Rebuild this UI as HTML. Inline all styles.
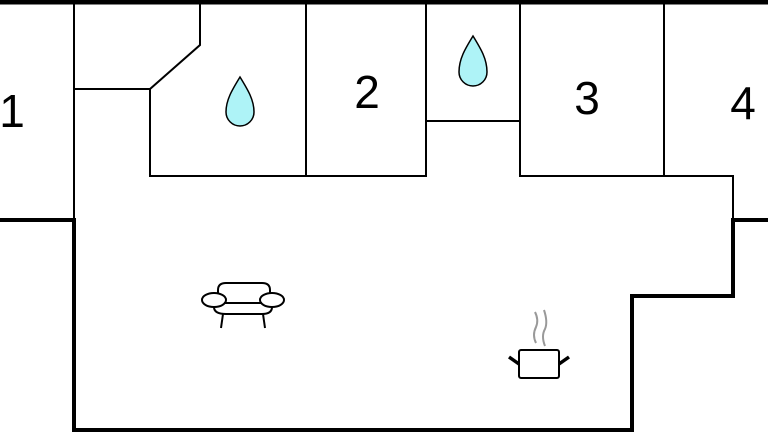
<html><body style="margin:0;background:#fff">
<svg width="768" height="432" viewBox="0 0 768 432" xmlns="http://www.w3.org/2000/svg">
<g fill="none" stroke="#000">
<line x1="0" y1="2" x2="768" y2="2" stroke-width="5"/>
<polyline points="0,220 74,220 74,430 632,430 632,296 733,296 733,220 768,220" stroke-width="4"/>
<g stroke-width="2">
<line x1="74" y1="0" x2="74" y2="220"/>
<polyline points="74,89 150,89 200,45 200,0"/>
<polyline points="150,89 150,176 426,176 426,0"/>
<line x1="306" y1="0" x2="306" y2="176"/>
<polyline points="426,121 520,121"/>
<polyline points="520,0 520,176 733,176 733,220"/>
<line x1="664" y1="0" x2="664" y2="176"/>
</g>
</g>
<g fill="#aef3f7" stroke="#000" stroke-width="1.5">
<path d="M240,77 C232,90 226,100 226,112 A14,14 0 0 0 254,112 C254,100 248,90 240,77Z"/>
<path d="M473,36 C465,49 459,59 459,72 A14,14 0 0 0 487,72 C487,59 481,49 473,36Z"/>
</g>
<g font-family="Liberation Sans, sans-serif" font-size="46" text-anchor="middle">
<text x="12" y="127">1</text>
<text x="367" y="108">2</text>
<text x="587" y="114">3</text>
<text x="743" y="119">4</text>
</g>
<g fill="none" stroke="#000" stroke-width="2">
<path d="M218,296 L218,290 Q218,283 226,283 L262,283 Q270,283 270,290 L270,296"/>
<ellipse cx="214" cy="300" rx="12" ry="7" fill="#fff"/>
<ellipse cx="272" cy="300" rx="12" ry="7" fill="#fff"/>
<line x1="224" y1="303" x2="262" y2="303"/>
<path d="M214,307 Q214,314 226,314 L262,314 Q272,314 272,307"/>
<line x1="223" y1="314" x2="221" y2="328"/>
<line x1="263" y1="314" x2="265" y2="328"/>
<rect x="519" y="350" width="40" height="28" rx="2"/>
<line x1="509" y1="357" x2="519" y2="364" stroke-width="3.5"/>
<line x1="569" y1="357" x2="559" y2="364" stroke-width="3.5"/>
<path d="M536,343 Q532,335 536,327 Q539,320 535,312" stroke="#999"/>
<path d="M545,346 Q541,336 545,329 Q548,322 544,310" stroke="#999"/>
</g>
</svg>
</body></html>
